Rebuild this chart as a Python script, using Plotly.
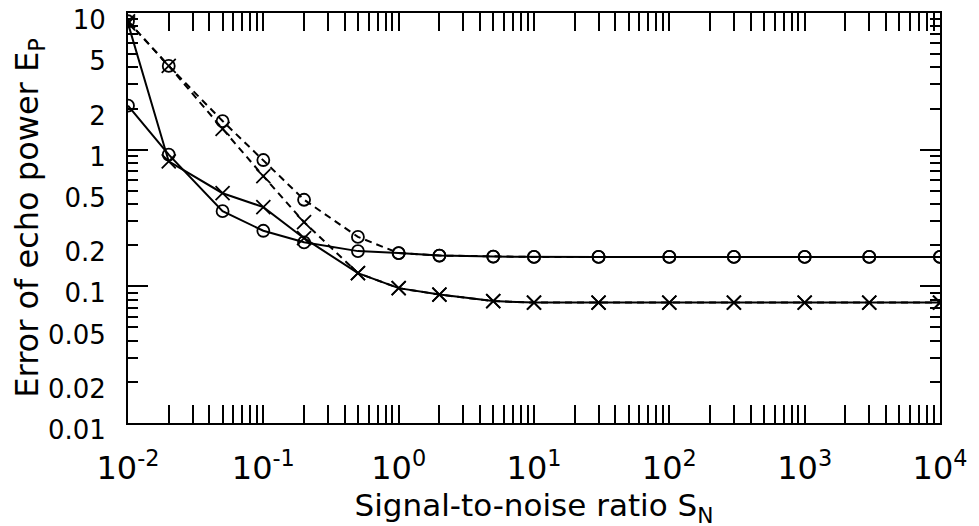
import plotly.graph_objects as go

# ---- data ----
snr = [0.01, 0.02, 0.05, 0.1, 0.2, 0.5, 1, 2, 5, 10, 30, 100, 300, 1000, 3000, 10000]

solid_circle = [2.1, 0.92, 0.355, 0.255, 0.21, 0.181, 0.175, 0.168, 0.165, 0.164,
                0.164, 0.164, 0.164, 0.164, 0.164, 0.164]
solid_cross = [8.4, 0.82, 0.48, 0.38, 0.225, 0.125, 0.097, 0.087, 0.078, 0.076,
               0.076, 0.076, 0.076, 0.076, 0.076, 0.076]
dashed_circle = [8.7, 4.1, 1.62, 0.84, 0.43, 0.23, 0.175, 0.168, 0.165, 0.164,
                 0.164, 0.164, 0.164, 0.164, 0.164, 0.164]
dashed_cross = [8.7, 4.1, 1.42, 0.64, 0.295, 0.125, 0.097, 0.087, 0.078, 0.076,
                0.076, 0.076, 0.076, 0.076, 0.076, 0.076]

x_tickvals = [1e-2, 1e-1, 1e0, 1e1, 1e2, 1e3, 1e4]
x_ticktext = ["10<sup>-2</sup>", "10<sup>-1</sup>", "10<sup>0</sup>", "10<sup>1</sup>",
              "10<sup>2</sup>", "10<sup>3</sup>", "10<sup>4</sup>"]
y_tickvals = [0.01, 0.02, 0.05, 0.1, 0.2, 0.5, 1, 2, 5, 10]
y_ticktext = ["0.01", "0.02", "0.05", "0.1", "0.2", "0.5", "1", "2", "5", "10"]
y_decades = [0.01, 0.1, 1, 10]

x_title = "Signal-to-noise ratio S<sub>N</sub>"
y_title = "Error of echo power E<sub>P</sub>"

# minor tick positions (2..9 within each decade)
x_minor = [m * 10 ** e for e in range(-2, 4) for m in range(2, 10)]
y_minor = [m * 10 ** e for e in range(-2, 1) for m in (3, 4, 6, 7, 8, 9)]

FONT = "DejaVu Sans"
BLACK = "black"

fig = go.Figure()


def add_series(y, symbol, dash, size):
    fig.add_trace(go.Scatter(
        x=snr, y=y, mode="lines+markers",
        line=dict(color=BLACK, width=2, dash=dash),
        marker=dict(symbol=symbol, size=size, color=BLACK,
                    line=dict(color=BLACK, width=1.8)),
        showlegend=False,
    ))


add_series(dashed_circle, "circle-open", "7px,5px", 12)
add_series(dashed_cross, "x-thin-open", "7px,5px", 14)
add_series(solid_circle, "circle-open", "solid", 12)
add_series(solid_cross, "x-thin-open", "solid", 14)

# overlay axis that only draws the long decade ticks on the y axis
fig.add_trace(go.Scatter(x=[snr[0]], y=[solid_circle[0]], yaxis="y2",
                         mode="markers", marker=dict(opacity=0),
                         showlegend=False, hoverinfo="skip"))

fig.update_layout(
    width=979, height=526,
    margin=dict(l=120, r=47, t=5, b=111),
    paper_bgcolor="white", plot_bgcolor="white",
    font=dict(family=FONT, color=BLACK),
    xaxis=dict(
        type="log", range=[-2, 4], automargin=False,
        tickmode="array", tickvals=x_tickvals, ticktext=x_ticktext,
        ticks="inside", ticklen=18, tickwidth=2, tickcolor=BLACK,
        minor=dict(tickmode="array", tickvals=x_minor, ticks="inside",
                   ticklen=9, tickwidth=2, tickcolor=BLACK, showgrid=False),
        showline=True, linecolor=BLACK, linewidth=2, mirror="allticks",
        showgrid=False, zeroline=False,
        tickfont=dict(size=32, family=FONT),
        ticklabelstandoff=16, ticklabeloverflow="allow",
        title=dict(text=x_title, font=dict(size=31, family=FONT), standoff=7),
    ),
    yaxis=dict(
        type="log", range=[-2, 1], automargin=False,
        tickmode="array", tickvals=y_tickvals, ticktext=y_ticktext,
        ticks="inside", ticklen=10, tickwidth=2, tickcolor=BLACK,
        minor=dict(tickmode="array", tickvals=y_minor, ticks="inside",
                   ticklen=10, tickwidth=2, tickcolor=BLACK, showgrid=False),
        showline=True, linecolor=BLACK, linewidth=2, mirror="allticks",
        showgrid=False, zeroline=False,
        tickfont=dict(size=26, family=FONT),
        ticklabelstandoff=15, ticklabelshift=7, ticklabeloverflow="allow",
        title=dict(text=y_title, font=dict(size=32, family=FONT), standoff=5),
    ),
    yaxis2=dict(
        type="log", range=[-2, 1], overlaying="y", side="left", automargin=False,
        tickmode="array", tickvals=y_decades, showticklabels=False,
        ticks="inside", ticklen=20, tickwidth=2, tickcolor=BLACK,
        showline=False, mirror="allticks", showgrid=False, zeroline=False,
    ),
)

fig.write_html("out.html")
